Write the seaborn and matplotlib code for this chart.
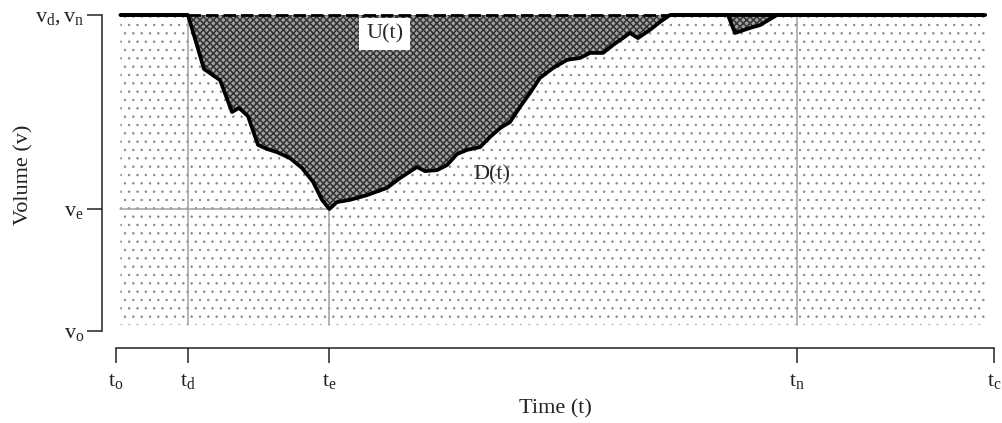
import numpy as np
import pandas as pd
import matplotlib
matplotlib.use('Agg')
import matplotlib.pyplot as plt
import seaborn as sns

# time axis marks (t_o .. t_c) and volume marks (v_o, v_e, v_d = v_n)
t_o, t_d, t_e, t_n, t_c = 0.0, 8.2, 24.3, 77.6, 100.0
v_o, v_e, v_d = 0.0, 38.6, 100.0

x_ticklabels = [r'$\mathrm{t_o}$', r'$\mathrm{t_d}$', r'$\mathrm{t_e}$', r'$\mathrm{t_n}$', r'$\mathrm{t_c}$']
y_ticklabels = [r'$\mathrm{v_o}$', r'$\mathrm{v_e}$', r'$\mathrm{v_d, v_n}$']

# D(t)
time = [0.5, 8.20, 10.02, 11.85, 13.21, 14.01, 15.03, 16.17, 17.20, 18.34, 19.82, 21.18,
        22.44, 23.46, 24.3, 25.17, 26.65, 28.59, 30.87, 32.35, 34.28, 35.19, 36.56,
        37.70, 38.84, 39.98, 41.46, 42.60, 43.74, 44.87, 46.01, 47.15, 48.29, 49.77,
        51.37, 52.85, 53.99, 55.47, 56.61, 58.54, 59.45, 60.82, 61.96, 63.10, 69.70,
        70.50, 72.21, 73.35, 75.28, 99.0]
volume = [100, 100, 82.9, 79.4, 69.3, 70.6, 68.0, 58.9, 57.6, 56.6, 54.7, 51.6,
          47.2, 41.5, 38.6, 40.8, 41.5, 43.0, 45.3, 48.4, 51.9, 50.6, 50.9,
          52.5, 56.0, 57.3, 58.2, 61.4, 64.2, 66.1, 70.9, 75.3, 80.1, 83.2,
          85.8, 86.4, 88.0, 88.0, 90.5, 94.3, 92.7, 95.3, 97.8, 100, 100,
          94.3, 95.9, 96.8, 100, 100]
v_floor = 2.0

df = pd.DataFrame({'time': time, 'volume': volume})

sns.set_theme(style='ticks')
plt.rcParams['font.family'] = ['Liberation Serif', 'DejaVu Serif']
plt.rcParams['mathtext.fontset'] = 'custom'
plt.rcParams['mathtext.rm'] = 'Liberation Serif'
plt.rcParams['mathtext.it'] = 'Liberation Serif:italic'

fig = plt.figure(figsize=(10.03, 4.23), dpi=100)
ax = fig.add_axes([116 / 1003, 92 / 423, 878 / 1003, 316 / 423])
# spines first: moving them resets the ticks
sns.despine(ax=ax, offset={'left': 10, 'bottom': 12.2})

# dotted area under D(t)
with plt.rc_context({'hatch.color': '#858585', 'hatch.linewidth': 0.5}):
    ax.fill_between(df['time'], v_floor, df['volume'], facecolor='white',
                    edgecolor='#858585', hatch='..', linewidth=0, zorder=1)
# cross-hatched deficit between D(t) and the top
with plt.rc_context({'hatch.color': '#333333', 'hatch.linewidth': 1.1}):
    ax.fill_between(df['time'], df['volume'], v_d, where=df['volume'] < v_d,
                    interpolate=True, facecolor='#a0a0a0', edgecolor='#333333',
                    hatch='xxxxx', linewidth=0, zorder=1)

# gray guide lines
guide = dict(color='#a0a0a0', lw=1.1, zorder=2)
ax.plot([t_d, t_d], [v_floor, v_d], **guide)
ax.plot([t_n, t_n], [v_floor, v_d], **guide)
ax.plot([t_e, t_e], [v_floor, v_e], **guide)
ax.plot([time[0], t_e], [v_e, v_e], **guide)

# D(t) and the top line
sns.lineplot(data=df, x='time', y='volume', ax=ax, color='black', lw=2.7,
             estimator=None, sort=False, zorder=4, clip_on=False)
ax.plot([time[0], t_d], [v_d, v_d], color='black', lw=2.8, zorder=4, clip_on=False,
        solid_capstyle='butt')
ax.plot([t_d, 63.1], [v_d, v_d], color='black', lw=2.0, ls=(0, (4.5, 1.8)), zorder=4,
        clip_on=False)
ax.plot([63.1, time[-1]], [v_d, v_d], color='black', lw=2.8, zorder=4, clip_on=False,
        solid_capstyle='butt')

ax.text(30.6, 94.0, 'U(t)', fontsize=16, ha='center', va='center', zorder=5,
        bbox=dict(boxstyle='square,pad=0.3', facecolor='white', edgecolor='none'))
ax.text(42.8, 49.5, 'D(t)', fontsize=16, ha='center', va='center', zorder=5)

ax.set_xlim(t_o, t_c)
ax.set_ylim(v_o, v_d)
ax.set_xticks([t_o, t_d, t_e, t_n, t_c])
ax.set_xticklabels(x_ticklabels)
ax.set_yticks([v_o, v_e, v_d])
ax.set_yticklabels(y_ticklabels)
ax.tick_params(axis='both', length=11, width=1.1, color='#222222', pad=2,
               labelsize=16, labelcolor='#222222')
ax.tick_params(axis='x', pad=6)

for side in ['left', 'bottom']:
    ax.spines[side].set_linewidth(1.1)
    ax.spines[side].set_color('#222222')
ax.spines['left'].set_bounds(v_o, v_d)
ax.spines['bottom'].set_bounds(t_o, t_c)

ax.set_xlabel('Time (t)', fontsize=16, color='#222222')
ax.set_ylabel('Volume (v)', fontsize=16, color='#222222')
ax.xaxis.set_label_coords(0.5, -0.215)
ax.xaxis.label.set_va('top')
ax.yaxis.set_label_coords(-0.094, 0.494)

fig.savefig('out.png', dpi=100)
